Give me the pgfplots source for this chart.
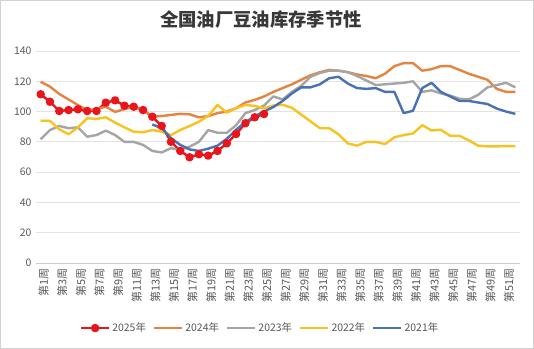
\documentclass[border=0pt]{standalone}
\usepackage{fontspec}
\setmainfont{Noto Sans CJK SC}
\usepackage{pgfplots}
\pgfplotsset{compat=1.18}
\definecolor{cRed}{HTML}{E8161B}
\definecolor{cOrange}{HTML}{E4843F}
\definecolor{cGray}{HTML}{A5A5A5}
\definecolor{cYellow}{HTML}{F6C320}
\definecolor{cBlue}{HTML}{4A70B5}
\definecolor{txt}{HTML}{595959}
\begin{document}
\begin{tikzpicture}
\useasboundingbox (0,0) rectangle (534bp,349bp);
\fill[white] (0,0) rectangle (534bp,349bp);
\draw[gray!35,line width=1.2bp] (0.6bp,0.6bp) rectangle (533.4bp,348.4bp);
\node[font=\fontsize{18.4}{20}\selectfont\bfseries, text=black!78] at (261bp,330bp) {全国油厂豆油库存季节性};
\begin{axis}[
  at={(36bp,86bp)}, anchor=south west,
  scale only axis, width=484bp, height=212bp,
  xmin=0.5, xmax=52.5, ymin=0, ymax=140,
  ytick={0,20,...,140},
  xtick={1,3,...,51},
  xticklabels={第1周,第3周,第5周,第7周,第9周,第11周,第13周,第15周,第17周,第19周,第21周,第23周,第25周,第27周,第29周,第31周,第33周,第35周,第37周,第39周,第41周,第43周,第45周,第47周,第49周,第51周},
  x tick label style={rotate=90, anchor=east, font=\fontsize{11}{12}\selectfont, text=txt, xshift=-2bp, yshift=-3bp},
  y tick label style={font=\fontsize{10.5}{12}\selectfont, text=txt, xshift=-1bp},
  /pgf/number format/assume math mode=true,
  major tick length=0pt,
  axis x line*=bottom, axis y line*=left,
  x axis line style={draw=gray!40, line width=0.8bp, -},
  y axis line style={draw=none},
  ymajorgrids, grid style={gray!22, line width=0.8bp},
  clip=false,
  every axis plot/.append style={line width=2.4bp, line join=round},
  legend columns=5,
  legend style={draw=none, at={(0.463,-0.307)}, anchor=center, font=\fontsize{10.5}{12}\selectfont, text=txt,
    /tikz/every even column/.append style={column sep=5bp}},
  legend image code/.code={\draw[mark repeat=2,mark phase=2,#1] plot coordinates {(0bp,0bp) (14bp,0bp) (28bp,0bp)};},
]
\addplot[cRed, mark=*, mark size=3bp, mark options={fill=cRed,draw=cRed}] coordinates {
(1,111.4)(2,106.5)(3,100.4)(4,101)(5,101.5)(6,100.4)(7,100.4)(8,105.9)(9,107.4)(10,103.9)
(11,103.2)(12,101)(13,96.6)(14,90.5)(15,80.1)(16,74)(17,69.8)(18,71.8)(19,70.9)(20,74)
(21,79)(22,85.2)(23,92.3)(24,96.2)(25,98.4)};
\addlegendentry{2025年}
\addplot[cOrange] coordinates {
(1,119.7)(2,116.5)(3,111.6)(4,108)(5,104.3)(6,101)(7,101.6)(8,103.2)(9,99.8)(10,101.6)
(11,103.2)(12,101)(13,96.7)(14,97)(15,97.8)(16,98.5)(17,98.2)(18,96.2)(19,97)(20,99)
(21,100)(22,102.2)(23,106)(24,107.7)(25,110)(26,113)(27,115.5)(28,118)(29,121)(30,124)
(31,126)(32,127.5)(33,127)(34,126)(35,124.5)(36,123.5)(37,122)(38,125)(39,130)(40,132)
(41,132)(42,127)(43,128)(44,130)(45,130)(46,127.5)(47,125)(48,123)(49,121)(50,115)
(51,113)(52,113)};
\addlegendentry{2024年}
\addplot[cGray] coordinates {
(1,81.7)(2,87.8)(3,90.5)(4,89)(5,89.6)(6,83.4)(7,84.5)(8,87.4)(9,84.5)(10,80)
(11,80)(12,78)(13,74)(14,73)(15,75.8)(16,74.6)(17,76.8)(18,80)(19,87.8)(20,86)
(21,86)(22,91)(23,99)(24,101)(25,104)(26,110)(27,108)(28,113)(29,117)(30,123)
(31,125.5)(32,127)(33,127)(34,126)(35,123.5)(36,120.5)(37,117.5)(38,118)(39,118.5)(40,119)
(41,120)(42,113)(43,114)(44,112)(45,110.5)(46,108.5)(47,108)(48,111)(49,116)(50,117.5)
(51,119)(52,116)};
\addlegendentry{2023年}
\addplot[cYellow] coordinates {
(1,94)(2,93.8)(3,88.3)(4,85)(5,89.6)(6,95.6)(7,95.1)(8,96.2)(9,92.7)(10,89.6)
(11,86.7)(12,86.3)(13,87.8)(14,86.7)(15,84.5)(16,87.8)(17,90.5)(18,93.3)(19,97.1)(20,104.4)
(21,99.3)(22,102.2)(23,104.4)(24,103.7)(25,102.2)(26,104)(27,104.5)(28,102.5)(29,98)(30,93.5)
(31,89)(32,89)(33,85)(34,79)(35,77.5)(36,80)(37,80)(38,78.5)(39,83)(40,84.5)
(41,85.5)(42,91)(43,87.5)(44,88)(45,84)(46,84)(47,81)(48,77.5)(49,77)(50,77)
(51,77.2)(52,77.2)};
\addlegendentry{2022年}
\addplot[cBlue] coordinates {
(13,91.5)(14,89)(15,82.5)(16,78)(17,75)(18,74)(19,75.5)(20,77.5)
(21,82)(22,88)(23,93)(24,97)(25,100)(26,103)(27,107)(28,112)(29,116)(30,116)
(31,118)(32,122)(33,123)(34,118.5)(35,115.5)(36,115)(37,115.5)(38,113)(39,113)(40,99)
(41,100.5)(42,115.5)(43,119)(44,113)(45,110)(46,107)(47,107)(48,106)(49,105)(50,102)
(51,100)(52,98.5)};
\addlegendentry{2021年}
\end{axis}
\end{tikzpicture}
\end{document}
